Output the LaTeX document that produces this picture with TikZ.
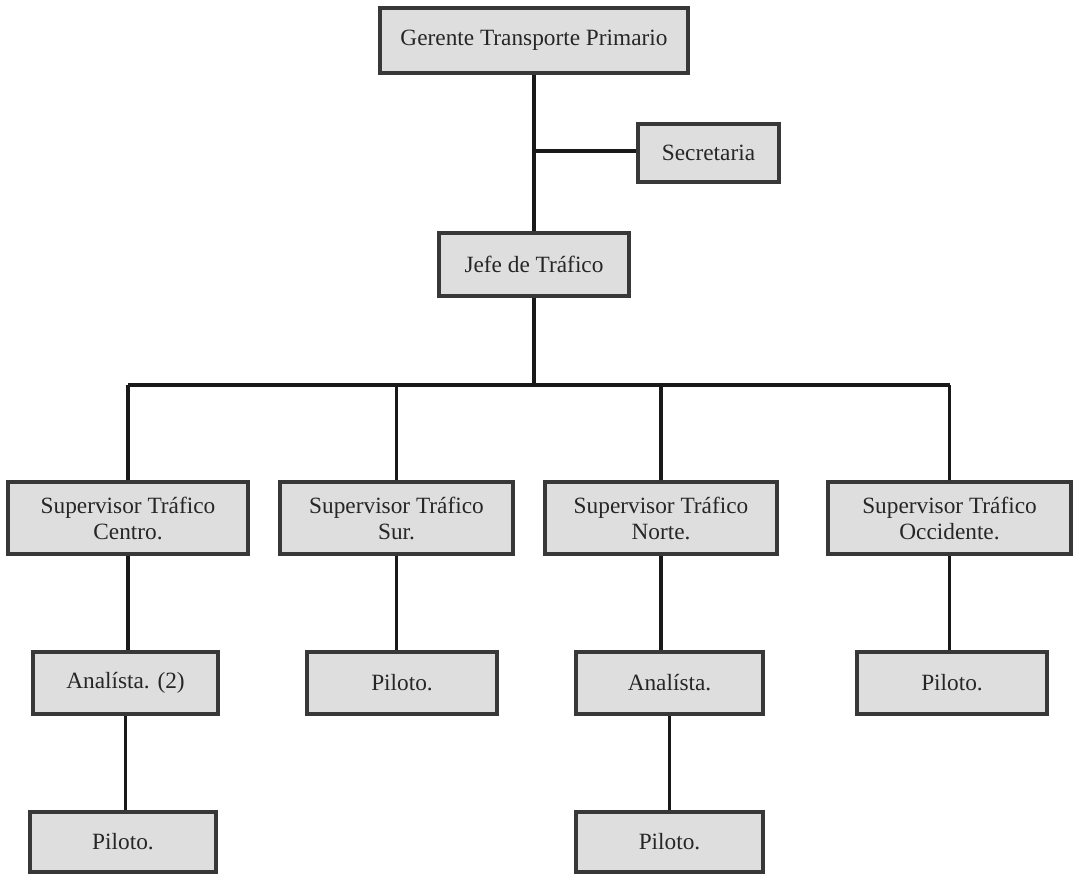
\documentclass[tikz,border=0pt]{standalone}
\usepackage{fontspec}
\setmainfont{Liberation Serif}
\begin{document}
\begin{tikzpicture}[x=1pt,y=-1pt,
  box/.style={draw=black!78, line width=3.2pt, fill=black!13, inner sep=0pt,
    font=\fontsize{23.3}{26}\selectfont, text=black!85, align=center},
  link/.style={line width=3.4pt, draw=black!90}]
\useasboundingbox (0,0) rectangle (1076,873);

% top of the chart
\node[box, minimum width=308, minimum height=65] (ger) at (534,40.5) {Gerente Transporte Primario};
\node[box, minimum width=141, minimum height=58] (sec) at (708.5,153) {Secretaria};
\node[box, minimum width=190, minimum height=63] (jef) at (534,264.5) {Jefe de Tráfico};

% supervisors
\node[box, minimum width=240, minimum height=72] (sc) at (128,518) {Supervisor Tráfico\\Centro.};
\node[box, minimum width=233, minimum height=72] (ss) at (396.5,518) {Supervisor Tráfico\\Sur.};
\node[box, minimum width=232, minimum height=72] (sn) at (661,518) {Supervisor Tráfico\\Norte.};
\node[box, minimum width=243, minimum height=72] (so) at (949.5,518) {Supervisor Tráfico\\Occidente.};

% third level
\node[box, minimum width=185, minimum height=62] (ac) at (125.5,683) {Analísta. (2)};
\node[box, minimum width=190, minimum height=62] (ps) at (402,683) {Piloto.};
\node[box, minimum width=187, minimum height=62] (an) at (669.5,683) {Analísta.};
\node[box, minimum width=190, minimum height=62] (po) at (952,683) {Piloto.};

% bottom level
\node[box, minimum width=186, minimum height=60] (pc) at (123,842) {Piloto.};
\node[box, minimum width=187, minimum height=60] (pn) at (669.5,842) {Piloto.};

% connectors
\coordinate (bus) at (534,385);
\coordinate (sj) at (534,151);
\draw[link] (ger.south) -- (jef.north);
\draw[link] (sj) -- (sec.west |- sj);
\draw[link] (jef.south) -- (bus);
\draw[link] (sc.north |- bus) -- (so.north |- bus);
\foreach \s in {sc,ss,sn,so}
  \draw[link] (\s.north) -- (\s.north |- bus);
\draw[link] (sc.south) -- (sc.south |- ac.north);
\draw[link] (ss.south) -- (ss.south |- ps.north);
\draw[link] (sn.south) -- (sn.south |- an.north);
\draw[link] (so.south) -- (so.south |- po.north);
\draw[link] (ac.south) -- (ac.south |- pc.north);
\draw[link] (an.south) -- (an.south |- pn.north);
\end{tikzpicture}
\end{document}
